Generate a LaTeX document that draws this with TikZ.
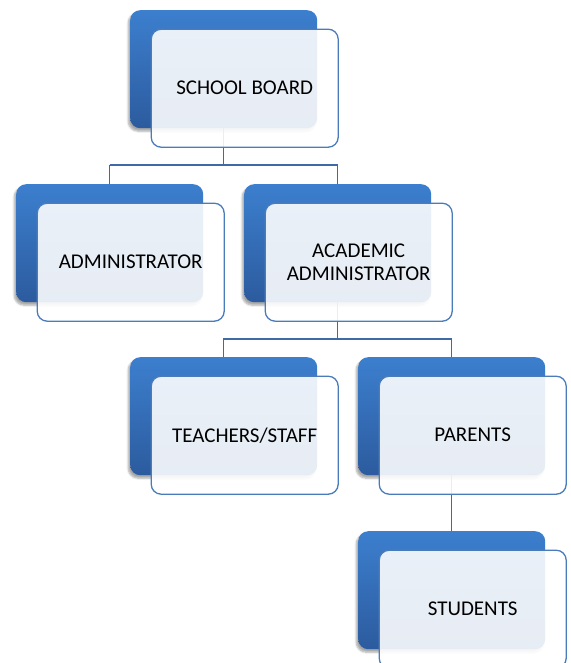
\documentclass[tikz,border=0pt]{standalone}
\usepackage{fontspec}
\setmainfont{Carlito}
\usetikzlibrary{shadows.blur}
\definecolor{bluetop}{RGB}{60,127,206}
\definecolor{bluebot}{RGB}{44,91,158}
\definecolor{edgeblue}{RGB}{74,124,187}
\definecolor{lineblue}{RGB}{62,106,168}
\tikzset{
  backbox/.style={anchor=north west, minimum width=187pt, minimum height=118pt,
    rounded corners=10pt, top color=bluetop, bottom color=bluebot, draw=none,
    inner sep=0pt,
    blur shadow={shadow xshift=-2pt, shadow yshift=-3pt, shadow blur steps=6, shadow opacity=35}},
  frontbox/.style={minimum width=187pt, minimum height=118pt, rounded corners=10pt,
    fill=white, fill opacity=0.89, text opacity=1, draw=edgeblue, draw opacity=1,
    line width=1.3pt, align=center, inner sep=2pt,
    font=\fontsize{21}{23.3}\selectfont, text=black},
  conn/.style={draw=lineblue, line width=1.5pt}
}
\begin{document}
\begin{tikzpicture}[x=1pt,y=-1pt]
\useasboundingbox (0,0) rectangle (570,663);
% back boxes
\node[backbox] (sbB) at (130,10) {};
\node[backbox] (adB) at (16,184) {};
\node[backbox] (aaB) at (244,184) {};
\node[backbox] (tsB) at (130,357) {};
\node[backbox] (paB) at (358,357) {};
\node[backbox] (stB) at (358,531) {};
% bus coordinates
\coordinate (bus1) at (0,165);
\coordinate (bus2) at (0,339);
% connectors
\draw[conn] (sbB.south) -- (sbB.south |- bus1);
\draw[conn] (adB.north |- bus1) -- (adB.north);
\draw[conn] (adB.north |- bus1) -- (aaB.north |- bus1) -- (aaB.north);
\draw[conn] (aaB.south) -- (aaB.south |- bus2);
\draw[conn] (tsB.north) -- (tsB.north |- bus2) -- (paB.north |- bus2) -- (paB.north);
\draw[conn] (paB.south) -- (stB.north);
% front boxes
\node[frontbox] (sb) at ([xshift=21pt,yshift=-19pt]sbB.center) {SCHOOL BOARD};
\node[frontbox] (ad) at ([xshift=21pt,yshift=-19pt]adB.center) {ADMINISTRATOR};
\node[frontbox] (aa) at ([xshift=21pt,yshift=-19pt]aaB.center) {ACADEMIC\\ADMINISTRATOR};
\node[frontbox] (ts) at ([xshift=21pt,yshift=-19pt]tsB.center) {TEACHERS/STAFF};
\node[frontbox] (pa) at ([xshift=21pt,yshift=-19pt]paB.center) {PARENTS};
\node[frontbox] (st) at ([xshift=21pt,yshift=-19pt]stB.center) {STUDENTS};
\end{tikzpicture}
\end{document}
